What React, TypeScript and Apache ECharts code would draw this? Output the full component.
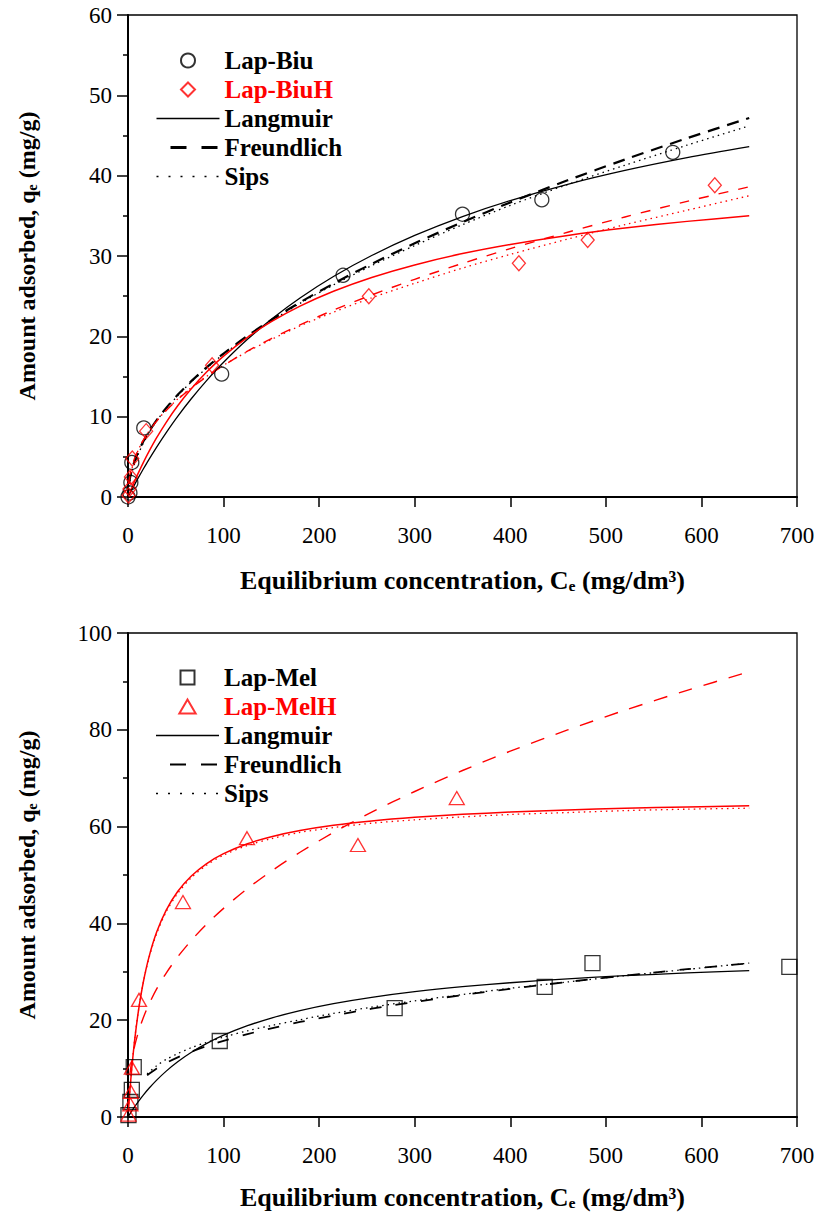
import React, { useEffect, useRef } from "react";
import * as echarts from "echarts";

const FONT = "Liberation Serif, Times New Roman, serif";
const RED = "#f00";
const BLACK = "#000";

// ---- Upper panel: Lap-Biu / Lap-BiuH ----
const biuCe = [0, 2, 3, 4, 16.5, 98, 225, 350, 433, 570];
const biuQe = [0, 0.5, 1.8, 4.3, 8.6, 15.3, 27.6, 35.2, 37.0, 42.9];
const biuHCe = [0.5, 1.5, 3, 4.5, 19, 88, 252, 409, 481, 614];
const biuHQe = [0.2, 1.0, 2.5, 4.8, 8.2, 16.4, 25.0, 29.1, 32.0, 38.8];

// model curves, upper panel
const fitCeTop = [1, 2, 4, 7, 11, 16, 22, 30, 40, 52, 66, 82, 100, 125, 150, 180, 215, 255, 300, 350, 400, 460, 520, 585, 650];
const biuLangmuir = [0.23, 0.46, 0.91, 1.57, 2.44, 3.48, 4.69, 6.22, 8.02, 10.04, 12.2, 14.46, 16.77, 19.63, 22.14, 24.78, 27.45, 30.06, 32.56, 34.91, 36.9, 38.93, 40.65, 42.24, 43.61];
const biuFreundlich = [1.64, 2.34, 3.36, 4.49, 5.68, 6.9, 8.14, 9.56, 11.1, 12.72, 14.39, 16.11, 17.86, 20.05, 22.04, 24.23, 26.56, 29.02, 31.58, 34.21, 36.67, 39.42, 42.01, 44.66, 47.18];
const biuSips = [1.3, 2.0, 3.0, 4.2, 5.4, 6.7, 8.0, 9.5, 11.0, 12.6, 14.3, 16.0, 17.8, 19.9, 21.9, 24.1, 26.4, 28.8, 31.3, 33.9, 36.3, 38.9, 41.3, 43.8, 46.2];
const biuHLangmuir = [0.3, 0.59, 1.16, 1.98, 3.04, 4.28, 5.67, 7.38, 9.3, 11.35, 13.44, 15.52, 17.53, 19.87, 21.82, 23.76, 25.61, 27.33, 28.89, 30.3, 31.44, 32.56, 33.48, 34.31, 35.0];
const biuHFreundlich = [1.99, 2.73, 3.75, 4.85, 5.96, 7.08, 8.19, 9.44, 10.77, 12.14, 13.54, 14.96, 16.38, 18.15, 19.73, 21.44, 23.26, 25.15, 27.1, 29.08, 30.92, 32.96, 34.86, 36.8, 38.62];
const biuHSips = [1.6, 2.4, 3.5, 4.7, 5.9, 7.1, 8.2, 9.5, 10.8, 12.2, 13.6, 15.0, 16.4, 18.1, 19.6, 21.3, 23.0, 24.8, 26.6, 28.5, 30.2, 32.1, 33.9, 35.7, 37.5];

// ---- Lower panel: Lap-Mel / Lap-MelH ----
const melCe = [0.5, 2.5, 4, 6, 96, 279, 436, 486, 692];
const melQe = [0.4, 3.1, 5.6, 10.3, 15.7, 22.5, 26.9, 31.8, 31.0];
const melHCe = [0.5, 2.5, 3, 4, 11.5, 57.5, 124.5, 240.6, 344];
const melHQe = [0.5, 2.6, 5.2, 10.2, 24.2, 44.4, 57.6, 56.2, 65.9];

// model curves, lower panel
const fitCeBottom = [0.5, 1, 2, 4, 7, 11, 16, 22, 30, 40, 52, 66, 82, 100, 125, 150, 180, 215, 255, 300, 350, 400, 460, 520, 585, 650];
const melLangmuir = [0.16, 0.32, 0.64, 1.25, 2.13, 3.24, 4.52, 5.93, 7.62, 9.48, 11.41, 13.32, 15.16, 16.9, 18.86, 20.45, 21.99, 23.43, 24.73, 25.9, 26.92, 27.74, 28.54, 29.19, 29.76, 30.23];
const melHLangmuir = [1.46, 2.86, 5.49, 10.14, 15.93, 22.02, 27.84, 33.08, 38.2, 42.75, 46.59, 49.75, 52.32, 54.41, 56.46, 57.92, 59.19, 60.27, 61.17, 61.91, 62.53, 63.0, 63.44, 63.77, 64.07, 64.3];
const melHSips = [1.6, 3.0, 5.7, 10.3, 16.1, 22.1, 27.8, 32.9, 37.9, 42.4, 46.2, 49.4, 52.0, 54.1, 56.1, 57.5, 58.8, 59.8, 60.7, 61.4, 62.0, 62.5, 62.9, 63.3, 63.6, 63.8];
const fitCeMelF = [20, 30, 40, 52, 66, 82, 100, 125, 150, 180, 215, 255, 300, 350, 400, 460, 520, 585, 650];
const melFreundlich = [8.61, 10.03, 11.17, 12.32, 13.47, 14.62, 15.75, 17.12, 18.33, 19.63, 20.98, 22.37, 23.77, 25.19, 26.48, 27.91, 29.22, 30.54, 31.77];
const melSips = [8.9, 10.6, 11.9, 13.1, 14.3, 15.4, 16.5, 17.8, 18.9, 20.1, 21.4, 22.7, 24.0, 25.3, 26.6, 27.9, 29.2, 30.5, 31.8];
const fitCeMelHF = [2, 4, 7, 11, 16, 22, 30, 40, 52, 66, 82, 100, 125, 150, 180, 215, 255, 300, 350, 400, 460, 520, 585, 650];
const melHFreundlich = [8.84, 11.71, 14.68, 17.63, 20.52, 23.34, 26.47, 29.74, 33.08, 36.43, 39.78, 43.11, 47.19, 50.8, 54.7, 58.77, 62.98, 67.25, 71.59, 75.58, 79.97, 84.05, 88.15, 92.0];

const xTitle = "Equilibrium concentration, C\u2091 (mg/dm\u00B3)";
const yTitle = "Amount adsorbed, q\u2091 (mg/g)";

// legend marker outlines kept square so they are not stretched to the line-icon width
const ICON_DIAMOND = "path://M7,0L14,7L7,14L0,7Z";
const ICON_SQUARE = "path://M0,0L14,0L14,14L0,14Z";
const ICON_TRIANGLE = "path://M7,0L14,12L0,12Z";

const zip = (xs: number[], ys: number[]) => xs.map((x, i) => [x, ys[i]]);

function xAxisFor(gridIndex: number, nameGap: number) {
  return {
    type: "value",
    gridIndex,
    min: 0,
    max: 700,
    interval: 100,
    axisLine: { show: true, onZero: false, lineStyle: { color: BLACK, width: 2 } },
    axisTick: { show: true, inside: false, length: 10, lineStyle: { color: BLACK, width: 1.5 } },
    axisLabel: { fontFamily: FONT, fontSize: 23, color: BLACK, margin: 27 },
    splitLine: { show: false },
    name: xTitle,
    nameLocation: "middle",
    nameGap,
    nameTextStyle: { fontFamily: FONT, fontSize: 26, fontWeight: "bold", color: BLACK, lineHeight: 30 },
  };
}

function yAxisFor(gridIndex: number, max: number, interval: number) {
  return {
    type: "value",
    gridIndex,
    min: 0,
    max,
    interval,
    axisLine: { show: true, onZero: false, lineStyle: { color: BLACK, width: 2 } },
    axisTick: { show: true, inside: false, length: 11, lineStyle: { color: BLACK, width: 1.5 } },
    minorTick: { show: true, splitNumber: 2, length: 5, lineStyle: { color: BLACK, width: 1.5 } },
    axisLabel: { fontFamily: FONT, fontSize: 23, color: BLACK, margin: 16 },
    splitLine: { show: false },
    name: yTitle,
    nameLocation: "middle",
    nameGap: 87,
    nameTextStyle: { fontFamily: FONT, fontSize: 24, fontWeight: "bold", color: BLACK, lineHeight: 28 },
  };
}

function scatter(name: string, g: number, xs: number[], ys: number[], symbol: string, size: number | number[], color: string) {
  return {
    type: "scatter",
    name,
    xAxisIndex: g,
    yAxisIndex: g,
    data: zip(xs, ys),
    symbol,
    symbolSize: size,
    clip: false,
    z: 3,
    itemStyle: { color: "rgba(255,255,255,0)", borderColor: color, borderWidth: 1.3 },
  };
}

function curve(name: string, g: number, xs: number[], ys: number[], color: string, type: any, width: number) {
  return {
    type: "line",
    name,
    xAxisIndex: g,
    yAxisIndex: g,
    data: zip(xs, ys),
    symbol: "none",
    showSymbol: false,
    smooth: 0.3,
    z: 2,
    itemStyle: { color },
    lineStyle: { color, type, width },
  };
}

const noMark = { color: "rgba(0,0,0,0)", borderColor: "rgba(0,0,0,0)", borderWidth: 0 };

function legendFor(top: number, markerA: string, iconA: string, markerB: string, iconB: string, dashWidth: number) {
  return {
    orient: "vertical",
    left: 155,
    top,
    padding: 0,
    itemWidth: 63,
    itemHeight: 14,
    itemGap: 4,
    selectedMode: false,
    textStyle: { fontFamily: FONT, fontSize: 25, fontWeight: "bold", color: BLACK, lineHeight: 24 },
    data: [
      { name: markerA, icon: iconA },
      { name: markerB, icon: iconB, textStyle: { color: RED } },
      { name: "Langmuir", itemStyle: noMark, lineStyle: { color: BLACK, width: 1.5, type: "solid" } },
      { name: "Freundlich", itemStyle: noMark, lineStyle: { color: BLACK, width: dashWidth, type: [16, 15], dashOffset: 17 } },
      { name: "Sips", itemStyle: noMark, lineStyle: { color: BLACK, width: 1.5, type: [2, 10] } },
    ],
  };
}

export default function App() {
  const ref = useRef<HTMLDivElement>(null);

  useEffect(() => {
    document.body.style.margin = "0";
    if (!ref.current) return;
    const chart = echarts.init(ref.current, undefined, { renderer: "svg" });
    const gridBase = { left: 128, right: 24, show: true, borderColor: BLACK, borderWidth: 1.3, backgroundColor: "transparent", containLabel: false, outerBoundsMode: "none" };
    chart.setOption({
      animation: false,
      backgroundColor: "#fff",
      textStyle: { fontFamily: FONT },
      grid: [
        { ...gridBase, top: 15, height: 482 },
        { ...gridBase, top: 633, height: 484 },
      ],
      xAxis: [xAxisFor(0, 68), xAxisFor(1, 65)],
      yAxis: [yAxisFor(0, 60, 10), yAxisFor(1, 100, 20)],
      legend: [
        legendFor(48, "Lap-Biu", "circle", "Lap-BiuH", ICON_DIAMOND, 3),
        legendFor(665, "Lap-Mel", ICON_SQUARE, "Lap-MelH", ICON_TRIANGLE, 2),
      ],
      series: [
        // upper panel
        curve("Langmuir", 0, fitCeTop, biuLangmuir, BLACK, "solid", 1.3),
        curve("Freundlich", 0, fitCeTop, biuFreundlich, BLACK, [12, 8], 2.2),
        curve("Sips", 0, fitCeTop, biuSips, BLACK, [1.5, 4], 1.3),
        curve("Langmuir H", 0, fitCeTop, biuHLangmuir, RED, "solid", 1.5),
        curve("Freundlich H", 0, fitCeTop, biuHFreundlich, RED, [10, 10], 1.4),
        curve("Sips H", 0, fitCeTop, biuHSips, RED, [1.5, 4], 1.3),
        scatter("Lap-Biu", 0, biuCe, biuQe, "circle", 14, BLACK),
        scatter("Lap-BiuH", 0, biuHCe, biuHQe, "diamond", [13, 15], RED),
        // lower panel
        curve("Langmuir M", 1, fitCeBottom, melLangmuir, BLACK, "solid", 1.3),
        curve("Freundlich M", 1, fitCeMelF, melFreundlich, BLACK, [12, 14], 1.8),
        curve("Sips M", 1, fitCeMelF, melSips, BLACK, [1.5, 4], 1.3),
        curve("Langmuir MH", 1, fitCeBottom, melHLangmuir, RED, "solid", 1.5),
        curve("Freundlich MH", 1, fitCeMelHF, melHFreundlich, RED, [14, 12], 1.4),
        curve("Sips MH", 1, fitCeBottom, melHSips, RED, [1.5, 4], 1.3),
        scatter("Lap-Mel", 1, melCe, melQe, "rect", 15, BLACK),
        scatter("Lap-MelH", 1, melHCe, melHQe, "triangle", [15, 13], RED),
      ],
    });
    return () => chart.dispose();
  }, []);

  return <div ref={ref} style={{ width: 821, height: 1219 }} />;
}
